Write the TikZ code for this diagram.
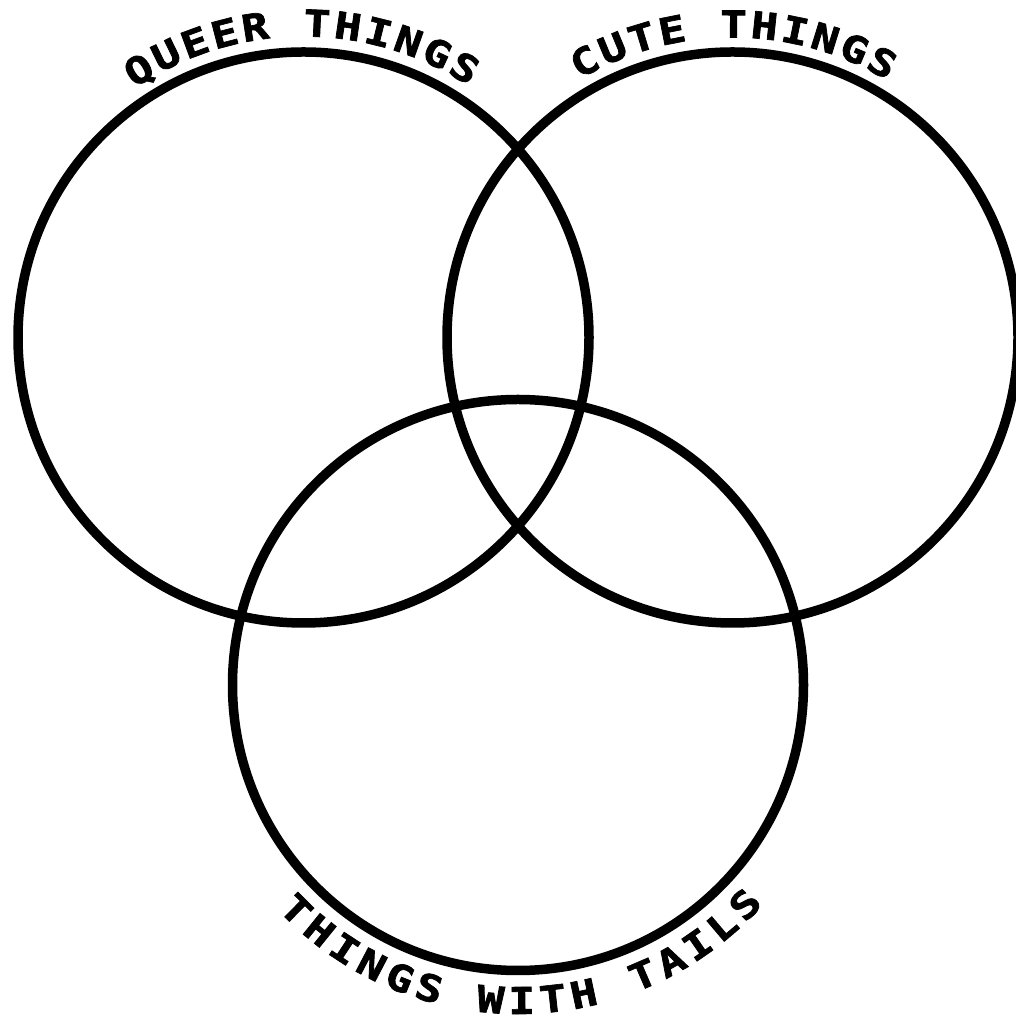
\documentclass[tikz,border=0pt]{standalone}
\usepackage{fontspec}
\usepackage{graphicx}
\usetikzlibrary{calc}
\newfontfamily\pixfont{DejaVu Sans Mono}[BoldFont={DejaVu Sans Mono Bold}, BoldFeatures={FakeBold=1.8}]
\begin{document}
\begin{tikzpicture}[x=1pt,y=1pt,
  ring/.style={draw=black, line width=9.5pt, circle, inner sep=0pt, minimum size=571pt},
  letter/.style={font=\pixfont\bfseries\fontsize{37}{37}\selectfont, inner sep=0pt, anchor=base}]
\useasboundingbox (0,0) rectangle (1016,1020);
\clip (0,0) rectangle (1016,1020);
\fill[white] (0,0) rectangle (1016,1020);
\coordinate (cL) at (303.5,682.5);
\coordinate (cR) at (732.5,682.5);
\coordinate (cB) at (518,335);
\node[ring] (L) at (cL) {};
\node[ring] (R) at (cR) {};
\node[ring] (B) at (cB) {};
% QUEER THINGS
\foreach \ch [count=\i from 0] in {Q,U,E,E,R,{},T,H,I,N,G,S}{
  \pgfmathsetmacro{\a}{121.6-5.68*\i}
  \node[letter, rotate=\a-90] (q\i) at ($(cL)+(\a:301)$) {\scalebox{1.2}[1]{\ch}};
}
% CUTE THINGS
\foreach \ch [count=\i from 0] in {C,U,T,E,{},T,H,I,N,G,S}{
  \pgfmathsetmacro{\a}{118.2-5.68*\i}
  \node[letter, rotate=\a-90] (c\i) at ($(cR)+(\a:300)$) {\scalebox{1.2}[1]{\ch}};
}
% THINGS WITH TAILS
\foreach \ch [count=\i from 0] in {T,H,I,N,G,S,{},W,I,T,H,{},T,A,I,L,S}{
  \pgfmathsetmacro{\a}{225.4+5.66*\i}
  \node[letter, rotate=\a+90] (t\i) at ($(cB)+(\a:329)$) {\scalebox{1.2}[1]{\ch}};
}
\end{tikzpicture}
\end{document}
